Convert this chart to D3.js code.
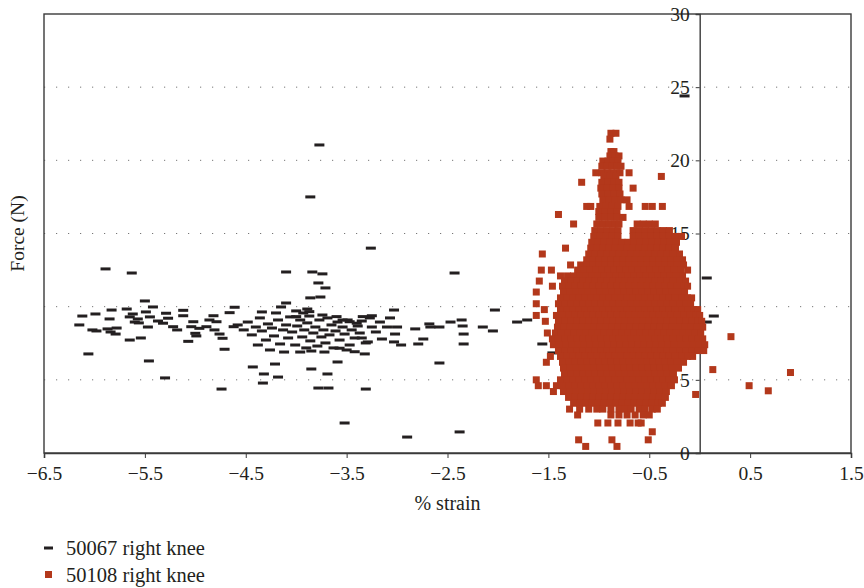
<!DOCTYPE html>
<html>
<head>
<meta charset="utf-8">
<script src="https://cdn.jsdelivr.net/npm/d3@7"></script>
<style>
    body { margin: 0; background: #fff; }
    text { font-family: "Liberation Serif", "DejaVu Serif", serif; fill: #231f20; }
</style>
</head>
<body>
<svg id="graphe" width="864" height="588"></svg>
<script>
//----------------------------------------------------------------
// Force (N) en fonction du % de déformation, deux genoux droits.
//----------------------------------------------------------------

const ticksX = [-6.5, -5.5, -4.5, -3.5, -2.5, -1.5, -0.5, 0.5, 1.5];
const ticksY = [0, 5, 10, 15, 20, 25, 30];
const grilleY = [5, 10, 15, 20, 25];
const titreX = "% strain";
const titreY = "Force (N)";
const legendes = ["50067 right knee", "50108 right knee"];

// serie 50067 : [strain, force]
const serieNoire = [
    [-3.77, 21.05], [-3.86, 17.5], [-0.15, 24.4], [-3.26, 14.0], [-2.43, 12.3],
    [-5.89, 12.58], [-5.63, 12.3], [-4.10, 12.37], [-3.84, 12.37], [-3.74, 12.24],
    [-3.78, 11.62], [-3.71, 11.28], [-3.86, 10.6], [-3.76, 10.66], [-3.89, 9.84],
    [-4.10, 10.25], [-4.15, 9.98], [-5.50, 10.39], [-5.42, 9.98],
    [0.07, 11.96], [0.14, 9.36], [0.07, 8.95], [-0.15, 8.68],
    [-1.81, 8.95], [-1.71, 9.09], [-1.37, 8.82], [-1.56, 7.45], [-1.46, 6.84],
    [-2.03, 9.77], [-3.03, 9.77], [-3.07, 9.23], [-3.17, 8.95], [-3.10, 8.61], [-3.00, 8.61],
    [-2.82, 8.48], [-2.68, 8.82], [-2.67, 8.61], [-2.58, 8.61], [-2.47, 8.95], [-2.36, 9.09],
    [-2.35, 8.68], [-2.34, 8.13], [-2.34, 7.45], [-2.15, 8.61], [-2.05, 8.34],
    [-3.02, 8.13], [-2.96, 7.38], [-3.03, 7.59], [-3.15, 7.79], [-3.29, 7.59], [-3.35, 7.86],
    [-3.37, 8.2], [-3.21, 8.27], [-3.25, 8.61], [-2.79, 7.45], [-2.74, 7.79],
    [-2.58, 6.15], [-3.59, 6.22], [-3.52, 2.05], [-3.85, 5.74], [-3.69, 5.4], [-3.78, 4.44],
    [-3.68, 4.44], [-3.31, 4.37], [-2.90, 1.09], [-2.38, 1.44],
    [-6.06, 6.77], [-6.15, 8.75], [-6.12, 9.36], [-5.99, 9.5], [-5.83, 9.77], [-5.68, 9.84],
    [-5.85, 9.16], [-6.02, 8.41], [-5.98, 8.34], [-5.87, 8.48], [-5.84, 8.27], [-5.79, 8.13],
    [-5.78, 8.54], [-5.62, 9.5], [-5.65, 9.3], [-5.57, 9.16], [-5.60, 8.95], [-5.56, 8.89],
    [-5.49, 9.64], [-5.45, 9.3], [-5.47, 8.61], [-5.65, 7.72], [-5.54, 7.86], [-5.46, 6.29],
    [-5.30, 5.13], [-4.74, 4.37], [-4.43, 5.88], [-4.32, 5.4], [-4.21, 6.08], [-4.18, 5.19],
    [-4.33, 4.78],
    [-5.37, 9.02], [-5.32, 8.87], [-5.27, 9.21], [-5.29, 9.55], [-5.22, 8.63], [-5.18, 8.41],
    [-5.12, 9.75], [-5.12, 9.38], [-5.02, 8.97], [-5.04, 8.63], [-5.00, 8.18], [-5.07, 7.63],
    [-4.99, 8.0], [-4.96, 8.52], [-4.89, 8.63], [-4.82, 9.38], [-4.86, 9.09], [-4.79, 8.97],
    [-4.81, 8.41], [-4.76, 8.13], [-4.73, 7.84], [-4.71, 7.09], [-4.66, 9.59], [-4.61, 9.96],
    [-4.62, 8.63],
    [-4.58, 8.75], [-4.52, 8.41], [-4.48, 8.95], [-4.44, 8.07], [-4.40, 8.61], [-4.36, 9.23],
    [-4.34, 8.34], [-4.30, 7.72], [-4.28, 8.82], [-4.24, 8.54], [-4.22, 8.0], [-4.18, 9.09],
    [-4.16, 7.45], [-4.13, 8.41], [-4.10, 8.75], [-4.08, 7.86], [-4.06, 9.3], [-4.04, 8.27],
    [-4.01, 7.38], [-3.99, 8.68], [-3.96, 9.09], [-3.94, 7.93], [-3.92, 8.41], [-3.90, 7.18],
    [-3.89, 8.89], [-3.87, 9.36], [-3.86, 7.66], [-3.83, 8.2], [-3.81, 8.61], [-3.79, 7.31],
    [-3.77, 9.09], [-3.75, 7.93], [-3.73, 8.41], [-3.71, 7.52], [-3.69, 9.23], [-3.67, 8.07],
    [-3.65, 8.75], [-3.63, 7.18], [-3.61, 8.34], [-3.59, 8.95], [-3.57, 7.72], [-3.54, 8.61],
    [-3.52, 8.13], [-3.49, 9.09], [-3.47, 7.38], [-3.45, 8.41], [-3.42, 7.86], [-3.39, 8.68],
    [-3.35, 9.02], [-3.31, 7.52], [-3.27, 9.23], [-4.38, 7.38], [-4.26, 7.04], [-4.12, 6.9],
    [-3.96, 6.9], [-3.85, 6.97], [-3.72, 6.9], [-4.34, 9.64], [-4.20, 9.57], [-4.00, 9.71],
    [-4.00, 9.32], [-3.93, 9.57], [-3.87, 9.66], [-3.74, 9.43], [-3.60, 9.32], [-3.54, 9.09],
    [-3.47, 8.97], [-3.40, 8.87], [-3.34, 9.32], [-3.25, 9.38], [-3.57, 7.16], [-3.50, 7.04],
    [-3.42, 6.92], [-3.32, 6.77]
];

// serie 50108 : chaque ligne = [force, [strain...]]
const serieRouge = [
    [21.85, [-0.88, -0.83]],
    [21.45, [-0.89]],
    [20.6, [-0.88, -0.85]],
    [20.3, [-0.89, -0.84, -0.80]],
    [19.95, [-0.96, -0.91, -0.86, -0.81]],
    [19.6, [-0.97, -0.92, -0.87, -0.82, -0.78]],
    [19.15, [-1.03, -0.97, -0.91, -0.85, -0.79, -0.70]],
    [18.9, [-0.95, -0.89, -0.83, -0.38]],
    [18.5, [-1.17, -0.97, -0.91, -0.85, -0.80]],
    [18.1, [-0.98, -0.92, -0.86, -0.80, -0.66]],
    [17.7, [-0.97, -0.91, -0.85, -0.79]],
    [17.3, [-0.96, -0.90, -0.84, -0.78, -0.72]],
    [16.85, [-1.12, -1.08, -0.99, -0.93, -0.87, -0.81, -0.70, -0.54, -0.47, -0.37]],
    [16.5, [-1.00, -0.94, -0.88, -0.82]],
    [16.3, [-1.40]],
    [16.1, [-1.00, -0.94, -0.88, -0.82, -0.76]],
    [15.65, [-1.25, -1.02, -0.96, -0.90, -0.84, -0.80, -0.62, -0.56, -0.50, -0.44]],
    [15.2, [-1.04, -0.98, -0.92, -0.86, -0.81, -0.66, -0.60, -0.54, -0.48, -0.42, -0.36, -0.30]],
    [14.8, [-1.05, -0.99, -0.93, -0.87, -0.81, -0.66, -0.60, -0.54, -0.48, -0.42, -0.36, -0.30, -0.24, -0.18]],
    [14.4, [-1.07, -1.01, -0.95, -0.89, -0.83, -0.77, -0.71, -0.65, -0.59, -0.53, -0.47, -0.41, -0.35, -0.29, -0.23]],
    [14.0, [-1.33, -1.08, -1.02, -0.96, -0.90, -0.84, -0.78, -0.72, -0.66, -0.60, -0.54, -0.48, -0.42, -0.36, -0.30, -0.24]],
    [13.6, [-1.56, -1.10, -1.04, -0.98, -0.92, -0.86, -0.80, -0.74, -0.68, -0.62, -0.56, -0.50, -0.44, -0.38, -0.32, -0.26, -0.20]],
    [13.2, [-1.12, -1.06, -1.00, -0.94, -0.88, -0.82, -0.76, -0.70, -0.64, -0.58, -0.52, -0.46, -0.40, -0.34, -0.28, -0.22, -0.17]],
    [12.85, [-1.28, -1.18, -1.12, -1.06, -1.00, -0.94, -0.88, -0.82, -0.76, -0.70, -0.64, -0.58, -0.52, -0.46, -0.40, -0.34, -0.28, -0.22, -0.16]],
    [12.5, [-1.57, -1.47, -1.21, -1.15, -1.09, -1.03, -0.97, -0.91, -0.85, -0.79, -0.73, -0.67, -0.61, -0.55, -0.49, -0.43, -0.37, -0.31, -0.25, -0.19, -0.12]],
    [12.1, [-1.38, -1.31, -1.25, -1.19, -1.13, -1.07, -1.01, -0.95, -0.89, -0.83, -0.77, -0.71, -0.65, -0.59, -0.53, -0.47, -0.41, -0.35, -0.29, -0.23, -0.17]],
    [11.75, [-1.59, -1.34, -1.28, -1.22, -1.16, -1.10, -1.04, -0.98, -0.92, -0.86, -0.80, -0.74, -0.68, -0.62, -0.56, -0.50, -0.44, -0.38, -0.32, -0.26, -0.20, -0.14]],
    [11.4, [-1.46, -1.36, -1.30, -1.24, -1.18, -1.12, -1.06, -1.00, -0.94, -0.88, -0.82, -0.76, -0.70, -0.64, -0.58, -0.52, -0.46, -0.40, -0.34, -0.28, -0.22, -0.16, -0.12]],
    [11.0, [-1.62, -1.35, -1.29, -1.23, -1.17, -1.11, -1.05, -0.99, -0.93, -0.87, -0.81, -0.75, -0.69, -0.63, -0.57, -0.51, -0.45, -0.39, -0.33, -0.27, -0.21, -0.15]],
    [10.6, [-1.38, -1.32, -1.26, -1.20, -1.14, -1.08, -1.02, -0.96, -0.90, -0.84, -0.78, -0.72, -0.66, -0.60, -0.54, -0.48, -0.42, -0.36, -0.30, -0.24, -0.18, -0.12, -0.08]],
    [10.2, [-1.62, -1.40, -1.34, -1.28, -1.22, -1.16, -1.10, -1.04, -0.98, -0.92, -0.86, -0.80, -0.74, -0.68, -0.62, -0.56, -0.50, -0.44, -0.38, -0.32, -0.26, -0.20, -0.14, -0.09]],
    [9.8, [-1.54, -1.38, -1.32, -1.26, -1.20, -1.14, -1.08, -1.02, -0.96, -0.90, -0.84, -0.78, -0.72, -0.66, -0.60, -0.54, -0.48, -0.42, -0.36, -0.30, -0.24, -0.18, -0.12, -0.06, -0.02]],
    [9.4, [-1.62, -1.42, -1.36, -1.30, -1.24, -1.18, -1.12, -1.06, -1.00, -0.94, -0.88, -0.82, -0.76, -0.70, -0.64, -0.58, -0.52, -0.46, -0.40, -0.34, -0.28, -0.22, -0.16, -0.10, -0.04, 0.00]],
    [9.0, [-1.53, -1.40, -1.34, -1.28, -1.22, -1.16, -1.10, -1.04, -0.98, -0.92, -0.86, -0.80, -0.74, -0.68, -0.62, -0.56, -0.50, -0.44, -0.38, -0.32, -0.26, -0.20, -0.14, -0.08, -0.02, 0.02]],
    [8.6, [-1.41, -1.35, -1.29, -1.23, -1.17, -1.11, -1.05, -0.99, -0.93, -0.87, -0.81, -0.75, -0.69, -0.63, -0.57, -0.51, -0.45, -0.39, -0.33, -0.27, -0.21, -0.15, -0.09, -0.03, 0.03]],
    [8.2, [-1.51, -1.43, -1.37, -1.31, -1.25, -1.19, -1.13, -1.07, -1.01, -0.95, -0.89, -0.83, -0.77, -0.71, -0.65, -0.59, -0.53, -0.47, -0.41, -0.35, -0.29, -0.23, -0.17, -0.11, -0.05, 0.01]],
    [7.95, [0.31]],
    [7.8, [-1.46, -1.40, -1.34, -1.28, -1.22, -1.16, -1.10, -1.04, -0.98, -0.92, -0.86, -0.80, -0.74, -0.68, -0.62, -0.56, -0.50, -0.44, -0.38, -0.32, -0.26, -0.20, -0.14, -0.08, -0.02, 0.03]],
    [7.4, [-1.45, -1.39, -1.33, -1.27, -1.21, -1.15, -1.09, -1.03, -0.97, -0.91, -0.85, -0.79, -0.73, -0.67, -0.61, -0.55, -0.49, -0.43, -0.37, -0.31, -0.25, -0.19, -0.13, -0.07, -0.01, 0.05]],
    [7.0, [-1.40, -1.34, -1.28, -1.22, -1.16, -1.10, -1.04, -0.98, -0.92, -0.86, -0.80, -0.74, -0.68, -0.62, -0.56, -0.50, -0.44, -0.38, -0.32, -0.26, -0.20, -0.14, -0.08, -0.02, 0.04]],
    [6.6, [-1.48, -1.38, -1.32, -1.26, -1.20, -1.14, -1.08, -1.02, -0.96, -0.90, -0.84, -0.78, -0.72, -0.66, -0.60, -0.54, -0.48, -0.42, -0.36, -0.30, -0.24, -0.18, -0.12, -0.07]],
    [6.2, [-1.52, -1.36, -1.30, -1.24, -1.18, -1.12, -1.06, -1.00, -0.94, -0.88, -0.82, -0.76, -0.70, -0.64, -0.58, -0.52, -0.46, -0.40, -0.34, -0.28, -0.22, -0.16]],
    [5.8, [-1.35, -1.29, -1.23, -1.17, -1.11, -1.05, -0.99, -0.93, -0.87, -0.81, -0.75, -0.69, -0.63, -0.57, -0.51, -0.45, -0.39, -0.33, -0.27, -0.21]],
    [5.7, [0.13]],
    [5.5, [0.90]],
    [5.4, [-1.34, -1.28, -1.22, -1.16, -1.10, -1.04, -0.98, -0.92, -0.86, -0.80, -0.74, -0.68, -0.62, -0.56, -0.50, -0.44, -0.38, -0.32, -0.26]],
    [5.0, [-1.62, -1.38, -1.32, -1.26, -1.20, -1.14, -1.08, -1.02, -0.96, -0.90, -0.84, -0.78, -0.72, -0.66, -0.60, -0.54, -0.48, -0.42, -0.36, -0.30, -0.25]],
    [4.6, [-1.60, -1.52, -1.42, -1.36, -1.30, -1.24, -1.18, -1.12, -1.06, -1.00, -0.94, -0.88, -0.82, -0.76, -0.70, -0.64, -0.58, -0.52, -0.46, -0.40, -0.34, -0.28, 0.49]],
    [4.25, [0.68]],
    [4.2, [-1.45, -1.35, -1.29, -1.23, -1.17, -1.11, -1.05, -0.99, -0.93, -0.87, -0.81, -0.75, -0.69, -0.63, -0.57, -0.51, -0.45, -0.39, -0.33]],
    [4.0, [-0.04]],
    [3.8, [-1.30, -1.24, -1.18, -1.12, -1.06, -1.00, -0.94, -0.88, -0.82, -0.76, -0.70, -0.64, -0.58, -0.52, -0.46, -0.40, -0.34]],
    [3.4, [-1.25, -1.19, -1.13, -1.07, -1.01, -0.95, -0.89, -0.83, -0.77, -0.71, -0.65, -0.59, -0.53, -0.47, -0.41, -0.37]],
    [3.0, [-1.29, -1.19, -1.10, -1.02, -0.96, -0.88, -0.80, -0.74, -0.68, -0.60, -0.54, -0.47, -0.42]],
    [2.6, [-1.21, -0.88, -0.80, -0.72, -0.64, -0.56, -0.50]],
    [2.05, [-1.01, -0.91, -0.81, -0.69, -0.61, -0.58]],
    [1.45, [-0.47]],
    [0.9, [-1.20, -0.87, -0.51]],
    [0.45, [-1.13, -0.82]]
];

const couleurNoire = "#231f20";
const couleurRouge = "#b3381b";

const svg = d3.select("#graphe");
const gauche = 44, droite = 851, haut = 14, bas = 453;

const x = d3.scaleLinear().domain([-6.5, 1.5]).range([gauche, droite]);
const y = d3.scaleLinear().domain([0, 30]).range([bas, haut]);

// grille pointillée
svg.append("g")
    .selectAll("line")
    .data(grilleY)
    .join("line")
    .attr("x1", gauche)
    .attr("x2", droite)
    .attr("y1", d => y(d))
    .attr("y2", d => y(d))
    .attr("stroke", "#777")
    .attr("stroke-width", 1)
    .attr("stroke-dasharray", "1.2,10.8")
    .attr("stroke-dashoffset", -12);

// cadre
svg.append("rect")
    .attr("x", gauche)
    .attr("y", haut)
    .attr("width", droite - gauche)
    .attr("height", bas - haut)
    .attr("fill", "none")
    .attr("stroke", "#3a3a3a")
    .attr("stroke-width", 1.4);

// axe X en bas
const axeX = d3.axisBottom(x)
    .tickValues(ticksX)
    .tickSize(5)
    .tickFormat(d => d3.format(".1f")(d).replace("-", "\u2212"));
svg.append("g")
    .attr("transform", "translate(0," + bas + ")")
    .call(axeX)
    .call(g => g.select(".domain").attr("stroke", "#3a3a3a").attr("stroke-width", 1.6))
    .call(g => g.selectAll(".tick line").attr("stroke", "#3a3a3a"))
    .call(g => g.selectAll(".tick text")
        .attr("y", 13)
        .attr("font-size", 19.5)
        .attr("fill", couleurNoire));

// axe Y à strain = 0
const axeY = d3.axisLeft(y)
    .tickValues(ticksY)
    .tickSize(4)
    .tickFormat(d3.format("d"));
svg.append("g")
    .attr("transform", "translate(" + x(0) + ",0)")
    .call(axeY)
    .call(g => g.select(".domain").attr("stroke", "#3a3a3a").attr("stroke-width", 1.4))
    .call(g => g.selectAll(".tick line").attr("stroke", "#3a3a3a"))
    .call(g => g.selectAll(".tick text")
        .attr("x", -10)
        .attr("font-size", 19.5)
        .attr("fill", couleurNoire));

// points 50067 : petits tirets
svg.append("g")
    .selectAll("rect")
    .data(serieNoire)
    .join("rect")
    .attr("x", d => x(d[0]) - 5)
    .attr("y", d => y(d[1]) - 1.5)
    .attr("width", 10)
    .attr("height", 3)
    .attr("fill", couleurNoire);

// points 50108 : carrés
const pointsRouges = serieRouge.flatMap(l => l[1].map(s => [s, l[0]]));
svg.append("g")
    .selectAll("rect")
    .data(pointsRouges)
    .join("rect")
    .attr("x", d => x(d[0]) - 3.5)
    .attr("y", d => y(d[1]) - 3.5)
    .attr("width", 7)
    .attr("height", 7)
    .attr("fill", couleurRouge);

// titres des axes
svg.append("text")
    .attr("x", (gauche + droite) / 2)
    .attr("y", 510)
    .attr("text-anchor", "middle")
    .attr("font-size", 20)
    .text(titreX);

svg.append("text")
    .attr("transform", "translate(24," + (haut + bas) / 2 + ") rotate(-90)")
    .attr("text-anchor", "middle")
    .attr("font-size", 19.5)
    .text(titreY);

// légende
const legende = svg.append("g");
legende.append("rect")
    .attr("x", 44).attr("y", 546.5)
    .attr("width", 9).attr("height", 3)
    .attr("fill", couleurNoire);
legende.append("rect")
    .attr("x", 45).attr("y", 571)
    .attr("width", 7).attr("height", 7)
    .attr("fill", couleurRouge);
legende.selectAll("text")
    .data(legendes)
    .join("text")
    .attr("x", 66)
    .attr("y", (d, i) => 554.5 + i * 27)
    .attr("font-size", 20.5)
    .text(d => d);
</script>
</body>
</html>
